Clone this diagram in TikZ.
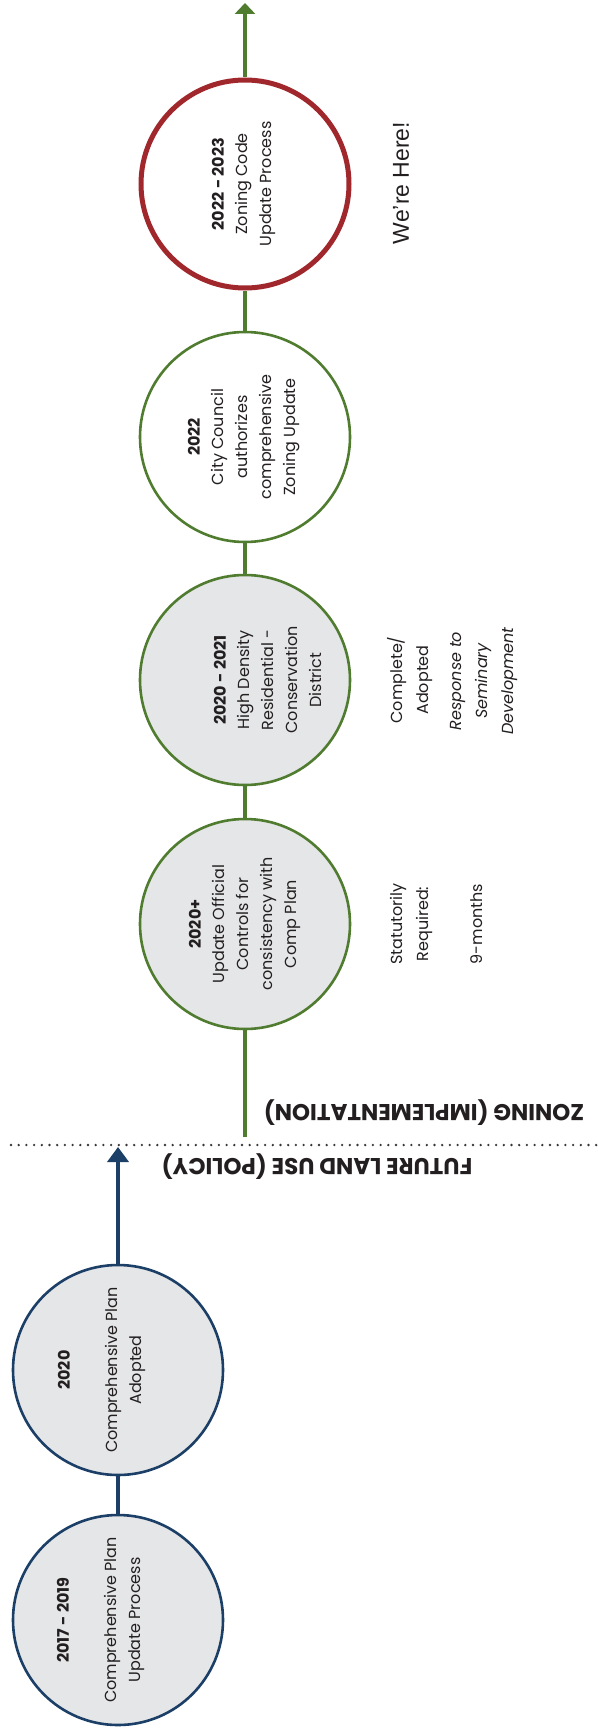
\documentclass[tikz,border=0pt]{standalone}
\usepackage{fontspec}
\setmainfont{Poppins}
\newfontfamily\arialf{Liberation Sans}
\usetikzlibrary{arrows.meta}
\definecolor{navy}{RGB}{27,63,102}
\definecolor{leaf}{RGB}{80,124,48}
\definecolor{brick}{RGB}{160,40,45}
\definecolor{lgray}{RGB}{229,230,232}
\definecolor{ink}{RGB}{35,31,32}
\begin{document}
\begin{tikzpicture}[x=1pt,y=-1pt,
  evt/.style={circle, minimum size=210pt, inner sep=0pt, line width=2.6pt},
  bluecirc/.style={evt, draw=navy, fill=lgray},
  greencirc/.style={evt, draw=leaf, fill=lgray},
  greenwhite/.style={evt, draw=leaf, fill=white},
  redcirc/.style={evt, minimum size=208pt, draw=brick, line width=5pt, fill=white},
  lbl/.style={rotate=90, align=center, text=ink, inner sep=0pt, font=\fontsize{16}{24}\selectfont},
  side/.style={rotate=90, align=center, text=ink, inner sep=0pt, font=\fontsize{16}{26}\selectfont},
  phase/.style={rotate=180, text=ink, inner sep=0pt, font=\bfseries\fontsize{23}{28}\selectfont},
  blueline/.style={draw=navy, line width=4.5pt},
  greenline/.style={draw=leaf, line width=3.5pt},
  dotline/.style={draw=ink!90, line width=2.6pt, line cap=round, dash pattern=on 0pt off 7.7pt},
]
\useasboundingbox[fill=white] (0,0) rectangle (599,1728);

% divider
\coordinate (dl) at (11,1145);
\coordinate (dr) at (599,1145);
\draw[dotline] (dl) -- (dr);

% blue circles
\node[bluecirc] (cA) at (118,1620) {};
\node[bluecirc] (cB) at (118,1370) {};
\coordinate (btip) at (118,1147);
\draw[blueline] (cA) -- (cB);
\draw[blueline, -{Triangle[width=21pt,length=15pt]}] (cB) -- (btip);

% green circles
\coordinate (gstart) at (245,1137);
\node[greencirc] (cC) at (245,924) {};
\node[greencirc] (cD) at (245,680) {};
\node[greenwhite] (cE) at (245,437) {};
\node[redcirc] (cF) at (245,184) {};
\coordinate (gtip) at (245,3);
\draw[greenline] (gstart) -- (cC);
\draw[greenline] (cC) -- (cD);
\draw[greenline] (cD) -- (cE);
\draw[greenline] (cE) -- (cF);
\draw[greenline, -{Triangle[width=20pt,length=11pt]}] (cF) -- (gtip);

% circle labels
\node[lbl] (lA) at (101,1620) {\textbf{2017 - 2019}\\[24pt]Comprehensive Plan\\Update Process};
\node[lbl] (lB) at (102,1370) {\textbf{2020}\\[24pt]Comprehensive Plan\\Adopted};
\node[lbl] (lC) at (245,924) {\textbf{2020+}\\Update Official\\Controls for\\consistency with\\Comp Plan};
\node[lbl] (lD) at (268,680) {\textbf{2020 - 2021}\\High Density\\Residential -\\Conservation\\District};
\node[lbl] (lE) at (244,437) {\textbf{2022}\\City Council\\authorizes\\comprehensive\\Zoning Update};
\node[lbl] (lF) at (244,184) {\textbf{2022 - 2023}\\Zoning Code\\Update Process};

% side notes
\node[side] (sC1) at (411,924) {Statutorily\\Required:};
\node[side] (sC2) at (477,924) {9-months};
\node[side] (sD1) at (410,680) {Complete/\\Adopted};
\node[side] (sD2) at (484,681) {\itshape Response to\\\itshape Seminary\\\itshape Development};
\node[side, font=\arialf\fontsize{23}{28}\selectfont] (sF) at (401,183) {We’re Here!};

% phase labels
\node[phase] (pz) at (424,1113) {ZONING (IMPLEMENTATION)};
\node[phase] (pf) at (317,1167) {FUTURE LAND USE (POLICY)};
\end{tikzpicture}
\end{document}
